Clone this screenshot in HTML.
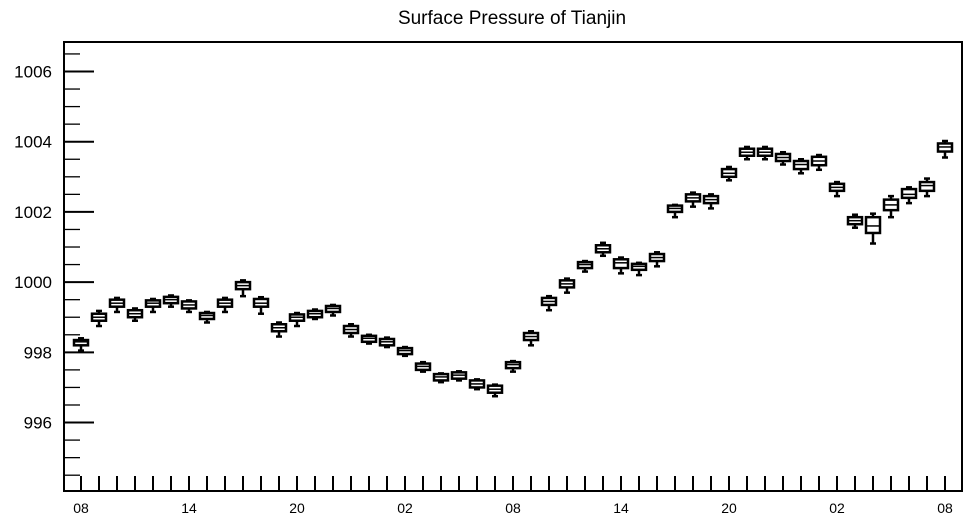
<!DOCTYPE html>
<html><head><meta charset="utf-8"><style>
body{margin:0;background:#fff;}
svg{display:block;font-family:"Liberation Sans",sans-serif;}
</style></head><body>
<svg id="chart" width="969" height="520" xmlns="http://www.w3.org/2000/svg">
<text x="512" y="24" text-anchor="middle" font-size="19">Surface Pressure of Tianjin</text>
<g id="axes"></g>
<g id="boxes"></g>
</svg>
<script>
const med=[998.3,999.0,999.4,999.1,999.4,999.5,999.35,999.05,999.4,999.9,999.4,998.7,999.0,999.1,999.25,998.65,998.4,998.3,998.05,997.6,997.3,997.35,997.1,996.95,997.65,998.45,999.45,999.95,1000.5,1000.95,1000.55,1000.45,1000.7,1002.1,1002.4,1002.35,1003.1,1003.7,1003.7,1003.55,1003.35,1003.45,1002.7,1001.75,1001.6,1002.2,1002.5,1002.75,1003.85];
const q1=[998.2,998.9,999.3,999.0,999.3,999.4,999.25,998.95,999.3,999.8,999.3,998.6,998.9,999.0,999.15,998.55,998.3,998.2,997.95,997.5,997.2,997.25,997.0,996.85,997.55,998.35,999.35,999.85,1000.4,1000.85,1000.4,1000.35,1000.6,1002.0,1002.3,1002.25,1003.0,1003.6,1003.6,1003.45,1003.22,1003.33,1002.6,1001.65,1001.4,1002.05,1002.4,1002.6,1003.72];
const q3=[998.35,999.1,999.5,999.2,999.48,999.58,999.45,999.12,999.5,1000.0,999.52,998.8,999.08,999.18,999.32,998.75,998.47,998.38,998.12,997.68,997.38,997.43,997.2,997.05,997.72,998.55,999.55,1000.05,1000.57,1001.05,1000.65,1000.52,1000.8,1002.18,1002.5,1002.45,1003.22,1003.8,1003.8,1003.65,1003.45,1003.57,1002.8,1001.85,1001.85,1002.35,1002.65,1002.85,1003.95];
const hi=[998.4,999.18,999.55,999.25,999.52,999.62,999.48,999.15,999.55,1000.05,999.57,998.85,999.12,999.22,999.35,998.8,998.5,998.42,998.15,997.72,997.4,997.46,997.23,997.08,997.75,998.6,999.6,1000.1,1000.6,1001.12,1000.7,1000.55,1000.85,1002.2,1002.55,1002.5,1003.28,1003.85,1003.85,1003.7,1003.5,1003.62,1002.85,1001.92,1001.95,1002.45,1002.7,1002.95,1004.02];
const lo=[998.05,998.75,999.15,998.9,999.15,999.3,999.15,998.85,999.15,999.6,999.1,998.45,998.75,998.95,999.05,998.45,998.25,998.15,997.9,997.45,997.15,997.2,996.95,996.75,997.45,998.2,999.2,999.7,1000.3,1000.75,1000.25,1000.2,1000.45,1001.85,1002.15,1002.1,1002.9,1003.5,1003.5,1003.35,1003.1,1003.2,1002.45,1001.55,1001.1,1001.85,1002.25,1002.45,1003.55];
const yTicks=[996,998,1000,1002,1004,1006];
const xLabels=["08","14","20","02","08","14","20","02","08"];
const NS="http://www.w3.org/2000/svg";
const L=64,R=962,T=42,B=491,YMIN=994.05,YMAX=1006.84;
const y=v=>B-(v-YMIN)/(YMAX-YMIN)*(B-T);
const x=i=>81+i*18;
function mk(tag,attrs,parent){const e=document.createElementNS(NS,tag);for(const k in attrs)e.setAttribute(k,attrs[k]);parent.appendChild(e);return e;}
const ax=document.getElementById('axes'),bx=document.getElementById('boxes');
let f=mk('rect',{x:L,y:T,width:R-L,height:B-T,fill:'none',stroke:'#000','stroke-width':2},ax);


for(let v=994.5;v<YMAX;v+=0.5){
  const major=yTicks.includes(Math.round(v*10)/10);
  const t=mk('line',{x1:L,x2:L+(major?30:16),y1:y(v),y2:y(v),stroke:'#000','stroke-width':major?2:1.3},ax);
  
  
}
yTicks.forEach(v=>{
  const t=mk('text',{x:52,y:y(v)+6,'text-anchor':'end','font-size':17},ax);t.textContent=v;
  
  
});
for(let i=0;i<med.length;i++){
  const t=mk('line',{x1:x(i),x2:x(i),y1:B,y2:B-15,stroke:'#000','stroke-width':2},ax);
  
  
}
xLabels.forEach((s,k)=>{
  const t=mk('text',{x:x(k*6),y:513,'text-anchor':'middle','font-size':14},ax);t.textContent=s;
  
  
});
for(let i=0;i<med.length;i++){
  const g=mk('g',{},bx);
  
  
  const cx=x(i),s={stroke:'#000','stroke-width':2.5};
  mk('line',Object.assign({x1:cx,x2:cx,y1:y(hi[i]),y2:y(lo[i])},s),g);
  mk('line',Object.assign({x1:cx-3,x2:cx+3,y1:y(hi[i]),y2:y(hi[i])},s),g);
  mk('line',Object.assign({x1:cx-3,x2:cx+3,y1:y(lo[i]),y2:y(lo[i])},s),g);
  mk('rect',Object.assign({x:cx-7,y:y(q3[i]),width:14,height:Math.max(1,y(q1[i])-y(q3[i])),fill:'#fff'},s),g);
  mk('line',Object.assign({x1:cx-7,x2:cx+7,y1:y(med[i]),y2:y(med[i])},s,{'stroke-width':1.5}),g);
}
</script>
</body></html>
